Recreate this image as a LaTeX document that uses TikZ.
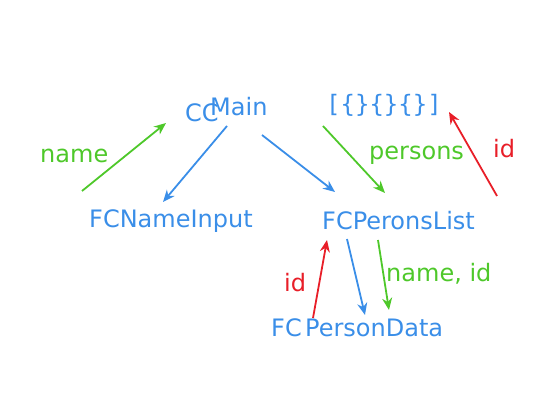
\documentclass[tikz,border=0pt]{standalone}
\usepackage{fontspec}
\setmainfont{DejaVu Sans}
\setmonofont{DejaVu Sans Mono}
\usetikzlibrary{arrows.meta,calc,positioning}
\definecolor{cblue}{RGB}{58,142,232}
\definecolor{cgreen}{RGB}{78,200,42}
\definecolor{cred}{RGB}{232,30,40}

\begin{document}
\begin{tikzpicture}[
  x=1pt, y=-1pt,
  comp/.style={inner sep=0, anchor=base west, text=cblue, font=\fontsize{24}{28}\selectfont},
  lbl/.style={inner sep=0, anchor=base west, font=\fontsize{24}{28}\selectfont},
  arr/.style={-{Stealth[length=12pt,width=10pt]}, line width=1.8pt},
]
\useasboundingbox (0,0) rectangle (542,417);

% Components
\node[comp] (cc) at (185,122) {CC};
\node[comp] (main) at (210,116) {Main};
\node[comp, font=\ttfamily\fontsize{24}{28}\selectfont] (arr) at (326,113) {[\{\}\{\}\{\}]};
\node[comp] (nameinput) at (89,228) {FCNameInput};
\node[comp] (plist) at (322,230) {FCPeronsList};
\node[comp] (fc) at (271,337) {FC};
\node[comp] (pdata) at (305,337) {PersonData};

% Free ends
\coordinate (namesrc) at (82,191);
\coordinate (idsrc) at (497,196);

% Data flow
\draw[arr, cgreen] (namesrc) -- ($(cc.base west)+(-19,1)$);
\draw[arr, cblue] ($(main.base west)+(17,10)$) -- ($(nameinput.base west)+(74,-26)$);
\draw[arr, cblue] ($(main.base west)+(52,19)$) -- ($(plist.base west)+(13,-38)$);
\draw[arr, cgreen] ($(arr.base west)+(-3,13)$) -- ($(plist.base west)+(63,-37)$);
\draw[arr, cred] (idsrc) -- ($(arr.base west)+(123,-1)$);
\draw[arr, cred] ($(fc.base west)+(42,-19)$) -- ($(plist.base west)+(5,10)$);
\draw[arr, cblue] ($(plist.base west)+(25,9)$) -- ($(pdata.base west)+(60,-22)$);
\draw[arr, cgreen] ($(plist.base west)+(56,10)$) -- ($(pdata.base west)+(84,-27)$);

% Labels
\node[lbl, text=cgreen] (lname) at (40,163) {name};
\node[lbl, text=cgreen] (lpersons) at (369,160) {persons};
\node[lbl, text=cred] (lid) at (493,158) {id};
\node[lbl, text=cred] (lid2) at (284,292) {id};
\node[lbl, text=cgreen] (lnameid) at (386,282) {name, id};
\end{tikzpicture}
\end{document}
